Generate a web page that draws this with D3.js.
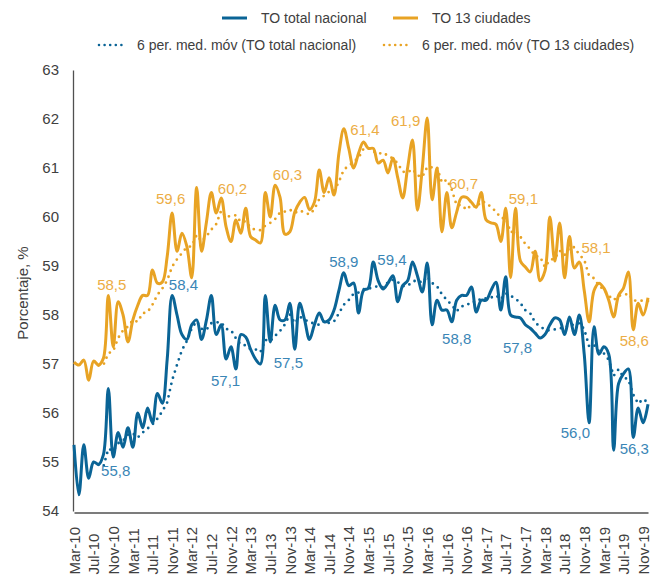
<!DOCTYPE html>
<html><head><meta charset="utf-8">
<script src="https://cdn.jsdelivr.net/npm/d3@7"></script>
<style>
body{margin:0;background:#fff}
svg{display:block}
text{font-family:"Liberation Sans",Arial,sans-serif}
</style>
</head><body>
<svg id="c" width="651" height="577"></svg>
<script>
// ---- DATA (monthly, Mar-10 .. Dec-19) ----
const firstMonth = "2010-03";
const nacional = [
 55.35, 54.33, 55.35, 54.67, 55.0, 54.95, 55.15, 56.5, 55.1, 55.6,
 55.3, 55.7, 55.3, 56.0, 55.7, 56.1, 55.8, 56.4, 56.2, 57.1,
 58.4, 58.0, 57.6, 57.5, 57.8, 57.9, 57.5, 57.9, 58.4, 57.6,
 57.8, 57.1, 57.35, 56.9, 57.6, 57.55, 57.3, 57.1, 57.0, 58.4,
 57.45, 58.2, 57.9, 57.9, 58.24, 57.3, 58.24, 57.9, 57.5, 57.8,
 58.04, 57.86, 57.9, 58.1, 58.5, 58.86, 58.6, 58.65, 58.04, 58.5,
 58.55, 59.08, 58.7, 58.53, 58.65, 58.8, 58.27, 58.6, 58.7, 59.08,
 58.8, 58.47, 59.06, 57.8, 58.3, 58.1, 58.1, 57.86, 58.3, 58.4,
 58.4, 58.57, 58.06, 58.3, 58.3, 58.5, 58.67, 58.1, 58.78, 58.0,
 57.96, 57.94, 57.8, 57.73, 57.63, 57.53, 57.6, 57.8, 57.94, 57.9,
 57.6, 57.96, 57.6, 58.0, 57.2, 55.8, 57.76, 57.2, 57.35, 57.2,
 55.24, 56.6, 56.8, 56.9, 55.5, 56.1, 55.8, 56.18
];
const ciudades = [
 57.04, 56.98, 57.08, 56.67, 57.06, 56.98, 57.12, 58.4, 57.35, 58.27,
 58.0, 57.45, 57.9, 58.2, 58.4, 58.4, 58.92, 58.65, 58.67, 59.2,
 60.08, 59.3, 59.67, 59.4, 58.76, 60.6, 59.3, 59.9, 60.5, 60.08,
 60.39, 59.8, 59.5, 59.94, 59.67, 60.18, 59.6, 59.53, 59.47, 60.5,
 60.0, 60.65, 60.4, 59.65, 59.7, 60.1, 60.3, 60.4, 60.15, 60.3,
 60.96, 60.5, 60.8, 60.45, 61.3, 61.8, 61.4, 61.0, 61.3, 61.53,
 61.4, 61.4, 61.1, 61.16, 60.9, 61.2, 60.8, 60.39, 61.0, 61.57,
 60.14, 61.0, 62.02, 60.35, 61.0, 59.7, 60.5, 59.78, 60.1, 60.4,
 60.4, 60.3, 60.2, 60.5, 59.94, 59.88, 59.85, 59.5, 60.18, 58.76,
 60.18, 59.1, 58.98, 58.88, 59.3, 58.7, 58.9, 60.0, 59.1, 59.88,
 58.76, 59.6, 58.96, 59.08, 58.5, 57.86, 58.5, 58.65, 58.55, 58.3,
 57.96, 58.4, 58.55, 58.88, 57.7, 58.24, 58.0, 58.35
];
const maPeriod = 6;
const yTicks = [54, 55, 56, 57, 58, 59, 60, 61, 62, 63];
const xTickLabels = ["Mar-10","Jul-10","Nov-10","Mar-11","Jul-11","Nov-11","Mar-12","Jul-12","Nov-12",
 "Mar-13","Jul-13","Nov-13","Mar-14","Jul-14","Nov-14","Mar-15","Jul-15","Nov-15","Mar-16","Jul-16",
 "Nov-16","Mar-17","Jul-17","Nov-17","Mar-18","Jul-18","Nov-18","Mar-19","Jul-19","Nov-19"];
const seriesNames = ["TO total nacional", "TO 13 ciudades"];
const maNames = ["6 per. med. móv (TO total nacional)", "6 per. med. móv (TO 13 ciudades)"];
// annotation labels: text, anchor month index, anchor value
const labelsNacional = [
 ["55,8", 8.5, 54.82], ["58,4", 22.3, 58.61], ["57,1", 30.9, 56.65], ["57,5", 43.7, 57.02],
 ["58,9", 55.0, 59.08], ["59,4", 64.8, 59.12], ["58,8", 78.0, 57.51], ["57,8", 90.4, 57.33],
 ["56,0", 102.2, 55.59], ["56,3", 114.2, 55.27]
];
const labelsCiudades = [
 ["58,5", 7.7, 58.61], ["59,6", 19.7, 60.37], ["60,2", 32.3, 60.57], ["60,3", 43.5, 60.86],
 ["61,4", 59.3, 61.78], ["61,9", 67.6, 61.96], ["60,7", 79.4, 60.67], ["59,1", 91.6, 60.37],
 ["58,1", 106.4, 59.37], ["58,6", 114.2, 57.47]
];

// ---- STYLE ----
const BLUE = "#0a6496", ORANGE = "#e8a324";
const BLUE_LBL = "#3a86b6", ORANGE_LBL = "#ecad45";
const TXT = "#404040";

const svg = d3.select("#c");
const n = nacional.length;
const x = d3.scaleLinear().domain([0, n - 1]).range([74, 648]);
const y = d3.scaleLinear().domain([54, 63]).range([511, 70]);

function movingAverage(arr, p) {
  return arr.map((v, i) => i < p - 1 ? null : d3.mean(arr.slice(i - p + 1, i + 1)));
}
const maNac = movingAverage(nacional, maPeriod);
const maCiu = movingAverage(ciudades, maPeriod);

// Y axis
const gy = svg.append("g").attr("transform", "translate(73,0)")
  .call(d3.axisLeft(y).tickValues(yTicks).tickSize(0).tickSizeOuter(0).tickPadding(14).tickFormat(d3.format("d")));
gy.attr("font-family", '"Liberation Sans",Arial,sans-serif').attr("font-size", 15).attr("color", TXT);
gy.select(".domain").attr("stroke", "#505050").attr("stroke-width", 1.3);

// X axis
const gx = svg.append("g").attr("transform", `translate(0,${y(54) + 1.5})`)
  .call(d3.axisBottom(x).tickValues(d3.range(0, n, 4)).tickSize(0).tickSizeOuter(0)
    .tickFormat(i => xTickLabels[i / 4]));
gx.attr("font-family", '"Liberation Sans",Arial,sans-serif').attr("font-size", 15).attr("color", TXT);
gx.select(".domain").attr("stroke", "#505050").attr("stroke-width", 1.3);
gx.selectAll(".tick text")
  .attr("transform", "rotate(-90)")
  .attr("text-anchor", "start")
  .attr("x", -62).attr("y", 0).attr("dy", "0.35em");

// Y title
svg.append("text")
  .attr("transform", "translate(23,293) rotate(-90)")
  .attr("text-anchor", "middle").attr("dy", "0.35em")
  .attr("font-size", 15).attr("fill", TXT)
  .text("Porcentaje, %");

// lines
const smooth = d3.line().x((d, i) => x(i)).y(d => y(d)).curve(d3.curveCatmullRom);
const straight = d3.line().defined(d => d !== null).x((d, i) => x(i)).y(d => y(d));

function dotted(data, color) {
  svg.append("path").datum(data).attr("d", straight)
    .attr("fill", "none").attr("stroke", color).attr("stroke-width", 2.8)
    .attr("stroke-linecap", "round").attr("stroke-dasharray", "0 6.4");
}
function solid(data, color) {
  svg.append("path").datum(data).attr("d", smooth)
    .attr("fill", "none").attr("stroke", color).attr("stroke-width", 3)
    .attr("stroke-linejoin", "round");
}
solid(ciudades, ORANGE);
solid(nacional, BLUE);
dotted(maCiu, ORANGE);
dotted(maNac, BLUE);

// data labels
function labels(arr, color) {
  svg.append("g").selectAll("text").data(arr).join("text")
    .attr("x", d => x(d[1])).attr("y", d => y(d[2]))
    .attr("text-anchor", "middle").attr("dy", "0.35em")
    .attr("font-size", 15).attr("fill", color)
    .text(d => d[0]);
}
labels(labelsCiudades, ORANGE_LBL);
labels(labelsNacional, BLUE_LBL);

// legend
const leg = svg.append("g").attr("font-size", 14).attr("fill", TXT);
const legItems = [
  {name: seriesNames[0], color: BLUE, dot: false, x: 222, y: 18},
  {name: seriesNames[1], color: ORANGE, dot: false, x: 393, y: 18},
  {name: maNames[0], color: BLUE, dot: true, x: 98, y: 45},
  {name: maNames[1], color: ORANGE, dot: true, x: 383, y: 45}
];
legItems.forEach(it => {
  const l = leg.append("line").attr("x1", it.x).attr("x2", it.x + 25).attr("y1", it.y).attr("y2", it.y)
    .attr("stroke", it.color).attr("stroke-width", it.dot ? 2.6 : 3);
  if (it.dot) l.attr("stroke-linecap", "round").attr("stroke-dasharray", "0 5.6").attr("x1", it.x + 1).attr("x2", it.x + 24);
  leg.append("text").attr("x", it.x + 39).attr("y", it.y).attr("dy", "0.35em").text(it.name);
});
</script>
</body></html>
